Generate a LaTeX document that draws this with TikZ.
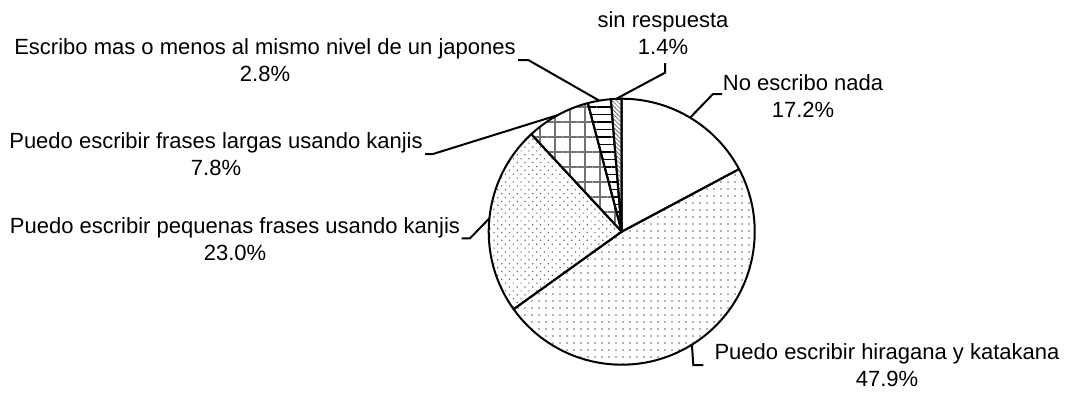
\documentclass[tikz,border=0pt]{standalone}
\usepackage{fontspec}
\setmainfont{Liberation Sans}
\usetikzlibrary{patterns.meta}

\tikzset{
	slice/.style={draw, line width=2pt, line join=round},
	leader/.style={line width=2pt},
	lbl/.style={align=center, inner sep=0pt, anchor=base,
		font=\fontsize{22}{27.3}\selectfont},
	pnada/.style={fill=white},
	phira/.style={pattern={Dots[distance=7pt, radius=0.8pt]}, pattern color=black!60},
	ppeq/.style={pattern={Dots[distance=5.5pt, angle=45, radius=0.85pt]}, pattern color=black!60},
	plarg/.style={pattern={Hatch[distance=15pt, line width=1.4pt]}, pattern color=black!55},
	pmismo/.style={pattern={Lines[distance=7.5pt, line width=1.2pt]}, pattern color=black},
	psin/.style={pattern={Lines[distance=3pt, angle=-45, line width=0.8pt]}, pattern color=black!55}
}

\begin{document}
\begin{tikzpicture}[x=1pt, y=1pt, yscale=-1]
	\useasboundingbox (0,0) rectangle (1066,392);
	\coordinate (c) at (621.7,231.7);
	% slices, clockwise from the top
	\foreach \a/\b/\s in {0/61.92/pnada, 61.92/234.36/phira, 234.36/317.16/ppeq,
		317.16/345.24/plarg, 345.24/355.32/pmismo, 355.32/360/psin}
		\draw[slice, \s] (c) -- ++(\a-90:133) arc[start angle=\a-90, end angle=\b-90, radius=133] -- cycle;

	% labels (base = baseline of the second line)
	\node[lbl] (nada) at (803,117.3) {No escribo nada\\17.2\%};
	\node[lbl] (hira) at (887,386.6) {Puedo escribir hiragana y katakana\\47.9\%};
	\node[lbl] (peq) at (235,260.6) {Puedo escribir pequenas frases usando kanjis\\23.0\%};
	\node[lbl] (larg) at (216,175.6) {Puedo escribir frases largas usando kanjis\\7.8\%};
	\node[lbl] (mismo) at (265,81.3) {Escribo mas o menos al mismo nivel de un japones\\2.8\%};
	\node[lbl] (sinr) at (663,54.3) {sin respuesta\\1.4\%};

	% leader lines
	\coordinate (nada-p) at ([shift={(-59.04:133)}]c);
	\coordinate (hira-p) at ([shift={(58.14:133)}]c);
	\coordinate (peq-p) at ([shift={(185.76:133)}]c);
	\coordinate (larg-p) at ([shift={(241.2:133)}]c);
	\coordinate (mismo-p) at ([shift={(260.28:133)}]c);
	\coordinate (sinr-p) at ([shift={(267.66:133)}]c);
	\coordinate (nada-e) at (722,94);
	\coordinate (hira-e) at (703.3,365);
	\coordinate (peq-e) at (461.7,238.3);
	\coordinate (larg-e) at (425,154);
	\coordinate (mismo-e) at (518,60);
	\coordinate (sinr-e) at (665,63);
	\draw[leader] (nada-p) -- (713,94) -- (nada-e);
	\draw[leader] (hira-p) -- (693.3,365) -- (hira-e);
	\draw[leader] (peq-p) -- (470,238.3) -- (peq-e);
	\draw[leader] (larg-p) -- (433,154) -- (larg-e);
	\draw[leader] (mismo-p) -- (528.3,60) -- (mismo-e);
	\draw[leader] (sinr-p) -- (665,72.7) -- (sinr-e);
\end{tikzpicture}
\end{document}
